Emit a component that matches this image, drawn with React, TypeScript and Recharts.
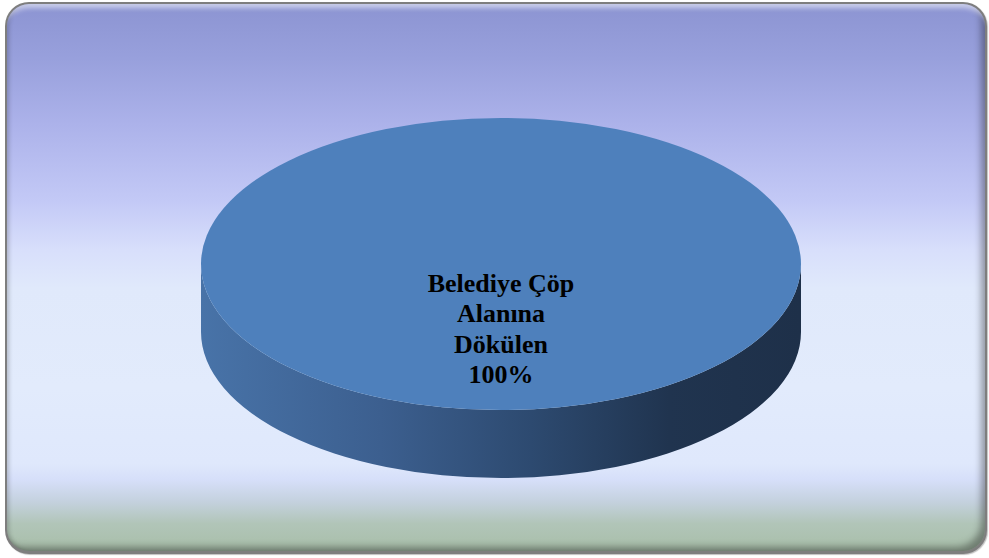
import React from "react";
import { PieChart, Pie, Cell } from "recharts";

// Dağılım (tek dilim)
const categories = ["Belediye Çöp Alanına Dökülen"];
const values = [100];
// etiket satırları (Excel'deki kaydırma)
const labelLines = ["Belediye Çöp", "Alanına", "Dökülen"];

const TOP_COLOR = "#4E80BC";
const TILT = 0.487; // elips oranı
const DEPTH = 68;

const data = categories.map((name, i) => ({ name, value: values[i] }));

function ellipsePoint(cx: number, cy: number, rx: number, ry: number, deg: number) {
  const a = (deg * Math.PI) / 180;
  return { x: cx + rx * Math.cos(a), y: cy - ry * Math.sin(a) };
}

function Slice3D(props: any) {
  const { cx, cy, outerRadius, startAngle, endAngle, fill } = props;
  const rx = outerRadius;
  const ry = outerRadius * TILT;
  const full = Math.abs(endAngle - startAngle) >= 359.99;

  const side = `M ${cx - rx} ${cy} A ${rx} ${ry} 0 0 0 ${cx + rx} ${cy} L ${cx + rx} ${cy + DEPTH} A ${rx} ${ry} 0 0 1 ${cx - rx} ${cy + DEPTH} Z`;

  let top: React.ReactNode;
  if (full) {
    top = <ellipse cx={cx} cy={cy} rx={rx} ry={ry} fill={fill} />;
  } else {
    const p1 = ellipsePoint(cx, cy, rx, ry, startAngle);
    const p2 = ellipsePoint(cx, cy, rx, ry, endAngle);
    const large = Math.abs(endAngle - startAngle) > 180 ? 1 : 0;
    top = (
      <path
        d={`M ${cx} ${cy} L ${p1.x} ${p1.y} A ${rx} ${ry} 0 ${large} 0 ${p2.x} ${p2.y} Z`}
        fill={fill}
      />
    );
  }

  return (
    <g>
      <defs>
        <linearGradient id="sideGrad" x1="0" y1="0" x2="1" y2="0">
          <stop offset="0%" stopColor="#4873A8" />
          <stop offset="30%" stopColor="#3C5F8F" />
          <stop offset="55%" stopColor="#2D4A70" />
          <stop offset="78%" stopColor="#20344F" />
          <stop offset="100%" stopColor="#1E3049" />
        </linearGradient>
      </defs>
      {full && <path d={side} fill="url(#sideGrad)" />}
      {top}
    </g>
  );
}

function renderLabel(props: any) {
  const { cx, cy, percent } = props;
  const lines = [...labelLines, `${Math.round(percent * 100)}%`];
  return (
    <text
      x={cx}
      y={cy + 28}
      textAnchor="middle"
      fill="#000000"
      fontFamily="'Liberation Serif', 'Times New Roman', serif"
      fontWeight="bold"
      fontSize={26}
    >
      {lines.map((l, i) => (
        <tspan key={i} x={cx} dy={i === 0 ? 0 : 30.3}>
          {l}
        </tspan>
      ))}
    </text>
  );
}

export default function App() {
  return (
    <div style={{ position: "absolute", left: 0, top: 0, width: 989, height: 558, background: "#ffffff" }}>
      <div
        style={{
          position: "absolute",
          left: 5,
          top: 2,
          width: 982,
          height: 552,
          borderRadius: 24,
          background: "#7e7e7e",
          boxShadow: "1px 1px 1px rgba(0,0,0,0.25)",
        }}
      >
        <div
          style={{
            position: "absolute",
            left: 2,
            top: 2,
            right: 2,
            bottom: 3,
            borderRadius: 22,
            background:
              "linear-gradient(to bottom, #8C94D2 0%, #98A0DC 10%, #ACB2EA 22%, #C3C9F6 36%, #D8DFFB 45%, #E0E9FB 52%, #E2EBFC 70%, #DFE8FC 84%, #D6DFF9 87%, #C4D1DE 91%, #B1C5B8 95%, #A8BEA9 100%)",
            boxShadow:
              "inset 0 10px 5px -6px rgba(255,255,255,0.55), inset -7px -7px 7px -3px rgba(0,0,0,0.35), inset 4px 0 4px -2px rgba(0,0,0,0.2)",
          }}
        />
      </div>
      <div style={{ position: "absolute", left: 0, top: 0 }}>
        <PieChart width={989} height={558} margin={{ top: 0, right: 0, bottom: 0, left: 0 }}>
          <Pie
            data={data}
            dataKey="value"
            nameKey="name"
            cx={501}
            cy={264}
            outerRadius={300}
            startAngle={0}
            endAngle={360}
            stroke="none"
            isAnimationActive={false}
            activeShape={Slice3D}
            inactiveShape={Slice3D}
            shape={Slice3D}
            label={renderLabel}
            labelLine={false}
          >
            {data.map((d, i) => (
              <Cell key={d.name} fill={TOP_COLOR} />
            ))}
          </Pie>
        </PieChart>
      </div>
    </div>
  );
}
